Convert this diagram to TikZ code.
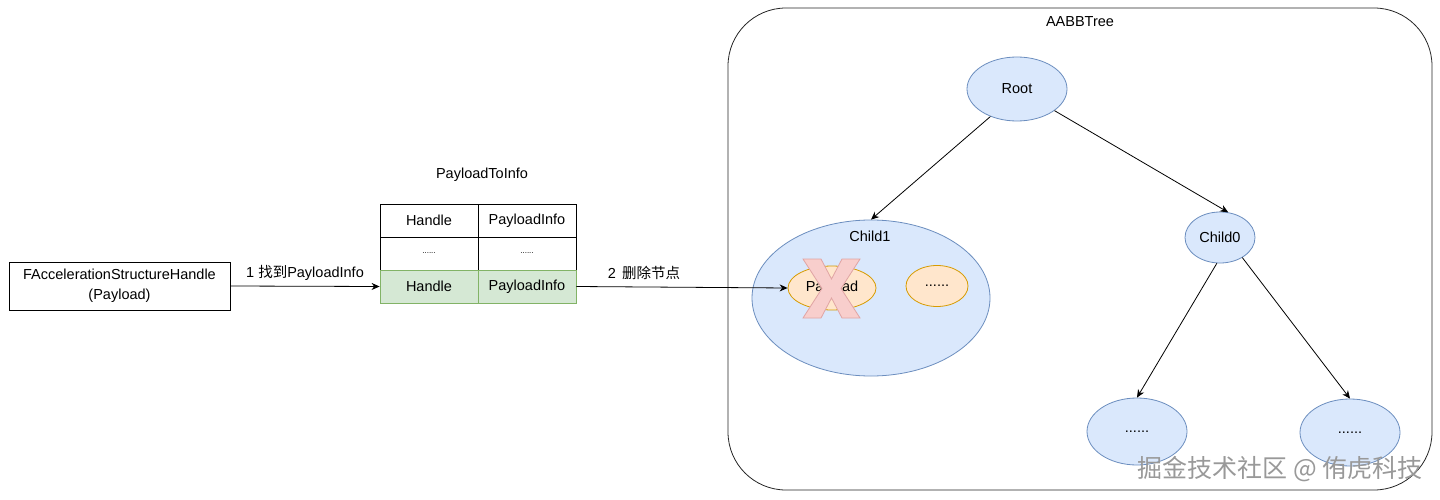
\documentclass[tikz,border=0pt]{standalone}
\usepackage{fontspec}
\setmainfont{Liberation Sans}
\newfontfamily\cjk{Noto Sans CJK SC}
\usetikzlibrary{arrows.meta,shapes.geometric}
\definecolor{bluefill}{HTML}{DAE8FC}
\definecolor{blueline}{HTML}{6C8EBF}
\definecolor{orfill}{HTML}{FFE6CC}
\definecolor{orline}{HTML}{D79B00}
\definecolor{grfill}{HTML}{D5E8D4}
\definecolor{grline}{HTML}{82B366}
\definecolor{xfill}{HTML}{F8CECC}
\definecolor{xline}{HTML}{E0A4A4}
\tikzset{
  txt/.style={font=\fontsize{14.5}{17}\selectfont, inner sep=0pt},
  cell/.style={draw=black, line width=0.8pt, minimum width=98pt, minimum height=33pt, inner sep=0pt, font=\fontsize{14.5}{17}\selectfont},
  gcell/.style={cell, draw=grline, fill=grfill},
  bell/.style={ellipse, draw=blueline, fill=bluefill, line width=0.8pt, inner sep=0pt, font=\fontsize{14.5}{17}\selectfont},
  oell/.style={ellipse, draw=orline, fill=orfill, line width=0.8pt, inner sep=0pt, font=\fontsize{14.5}{17}\selectfont},
  conn/.style={line width=0.8pt, -{Stealth[length=8pt,width=7pt]}},
}
\begin{document}
\begin{tikzpicture}[x=1pt,y=-1pt]
\useasboundingbox (0,0) rectangle (1440,500);
\fill[white] (0,0) rectangle (1440,500);

% AABBTree container
\node (tree) [draw=black!85, line width=0.8pt, rounded corners=58pt, minimum width=704pt, minimum height=482pt, inner sep=0pt] at (1080,249) {};
\node (treetitle) [txt] at (1080,22) {AABBTree};

% left box
\node (fash) [draw=black, line width=0.8pt, minimum width=221pt, minimum height=48pt, inner sep=0pt, align=center, font=\fontsize{14.5}{20}\selectfont] at (119.5,286) {FAccelerationStructureHandle\\(Payload)};

% table
\node (tabtitle) [txt] at (482,175) {PayloadToInfo};
\node (t11) [cell] at (429,220.5) {Handle};
\node (t12) [cell] at (527,220.5) {PayloadInfo};
\node (t21) [cell] at (429,253.5) {\fontsize{8}{9}\selectfont ......};
\node (t22) [cell] at (527,253.5) {\fontsize{8}{9}\selectfont ......};
\node (t31) [gcell] at (429,286.5) {Handle};
\node (t32) [gcell] at (527,286.5) {PayloadInfo};

% tree nodes
\node (root) [bell, minimum width=100pt, minimum height=64pt] at (1017,89) {Root};
\node (child1) [bell, minimum width=238pt, minimum height=156pt] at (871,298) {};
\node (child1lbl) [txt] at (870,236) {Child1};
\node (payload) [oell, minimum width=88pt, minimum height=44pt] at (832,288) {Payload};
\node (dots1) [oell, minimum width=62pt, minimum height=41pt] at (937,286) {......};
\node (child0) [bell, minimum width=70pt, minimum height=51pt] at (1220,237.5) {Child0};
\node (bl) [bell, minimum width=100pt, minimum height=67pt] at (1137,431.5) {......};
\node (br) [bell, minimum width=100pt, minimum height=67pt] at (1350,432.5) {......};

% red cross
\draw[fill=xfill, draw=xline, line width=0.8pt]
  (803,259) -- (821,259) -- (831.5,279) -- (842,259) -- (860,259) -- (841,288.5)
  -- (860,318) -- (842,318) -- (831.5,298) -- (821,318) -- (803,318) -- (822,288.5) -- cycle;

% connectors
\draw[conn] (fash.east) -- (t31.west) node[midway, above=5pt, txt] {1 {\cjk 找到}PayloadInfo};
\draw[conn] (t32.east) -- (payload.west) node[pos=0.32, above=7pt, txt] {2\hspace{6pt}{\cjk 删除节点}};
\draw[conn] (root.226) -- (child1.north);
\draw[conn] (root.330) -- (child0.72);
\draw[conn] (child0.263) -- (bl.north);
\draw[conn] (child0.318) -- (br.north);

% watermark
\node (wm) [inner sep=0pt, text=black!40, font=\cjk\fontsize{25}{28}\selectfont] at (1280,469) {掘金技术社区 @ 侑虎科技};
\end{tikzpicture}
\end{document}
